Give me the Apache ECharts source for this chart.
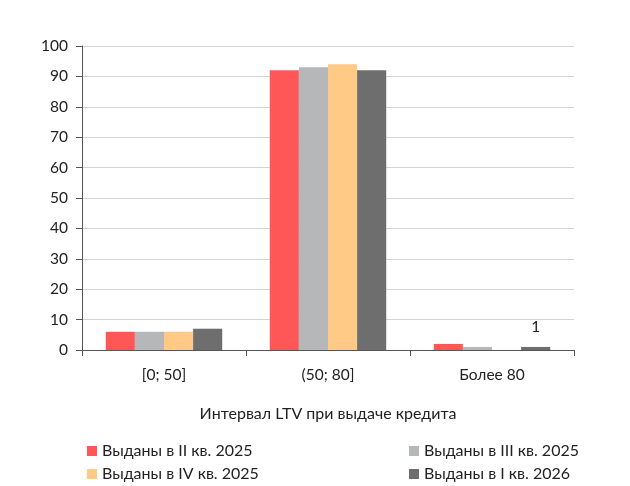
<!DOCTYPE html>
<html><head><meta charset="utf-8">
<script src="https://cdn.jsdelivr.net/npm/echarts@6/dist/echarts.min.js"></script>
<style>html,body{margin:0;padding:0;background:#fff}#c{width:630px;height:486px}</style>
</head><body><div id="c"></div>
<script>
const categories = ['[0; 50]', '(50; 80]', 'Более 80'];
const seriesNames = ['Выданы в II кв. 2025', 'Выданы в III кв. 2025', 'Выданы в IV кв. 2025', 'Выданы в I кв. 2026'];
const q2_2025 = [6, 92, 2];
const q3_2025 = [6, 93, 1];
const q4_2025 = [6, 94, 0];
const q1_2026 = [7, 92, 1];
const yTicks = [0, 100, 10];
const colors = ['#FF5757', '#B6B7B9', '#FFC986', '#6D6E6D'];
const FONT = 'Lato';
const data = [q2_2025, q3_2025, q4_2025, q1_2026];
const chart = echarts.init(document.getElementById('c'), null, {renderer: 'canvas'});
const series = data.map((d, i) => ({
  name: seriesNames[i], type: 'bar', data: d.map((v, j) => {
    if (i === 3 && j === 2) return {value: v, label: {show: true, position: 'top', distance: 12, color: '#222', fontSize: 15.5, fontFamily: FONT}};
    return v;
  }),
  itemStyle: {color: colors[i]}, barGap: '0%', barCategoryGap: '29%'
}));
const legendPos = [[87, 443], [409, 443], [87, 466], [409, 466]];
const legends = seriesNames.map((n, i) => ({
  data: [n], left: legendPos[i][0], top: legendPos[i][1], itemWidth: 10, itemHeight: 10, itemGap: 5,
  textStyle: {color: '#222', fontSize: 16, fontFamily: FONT}, icon: 'rect', padding: 0
}));
chart.setOption({
  animation: false,
  textStyle: {fontFamily: FONT},
  grid: {left: 82, right: 56, top: 46, bottom: 136},
  xAxis: {
    type: 'category', data: categories,
    name: 'Интервал LTV при выдаче кредита', nameLocation: 'middle', nameGap: 56,
    nameTextStyle: {color: '#222', fontSize: 16, fontFamily: FONT},
    axisLine: {lineStyle: {color: '#555'}},
    axisTick: {show: true, length: 6, lineStyle: {color: '#555'}},
    axisLabel: {color: '#222', fontSize: 15.5, margin: 17, fontFamily: FONT}
  },
  yAxis: {
    type: 'value', min: yTicks[0], max: yTicks[1], interval: yTicks[2],
    axisLine: {show: true, lineStyle: {color: '#555'}},
    axisTick: {show: true, length: 6, lineStyle: {color: '#555'}},
    axisLabel: {color: '#222', fontSize: 15.5, margin: 14, fontFamily: FONT},
    splitLine: {lineStyle: {color: '#d4d4d4'}}
  },
  legend: legends,
  series: series
});
</script></body></html>
